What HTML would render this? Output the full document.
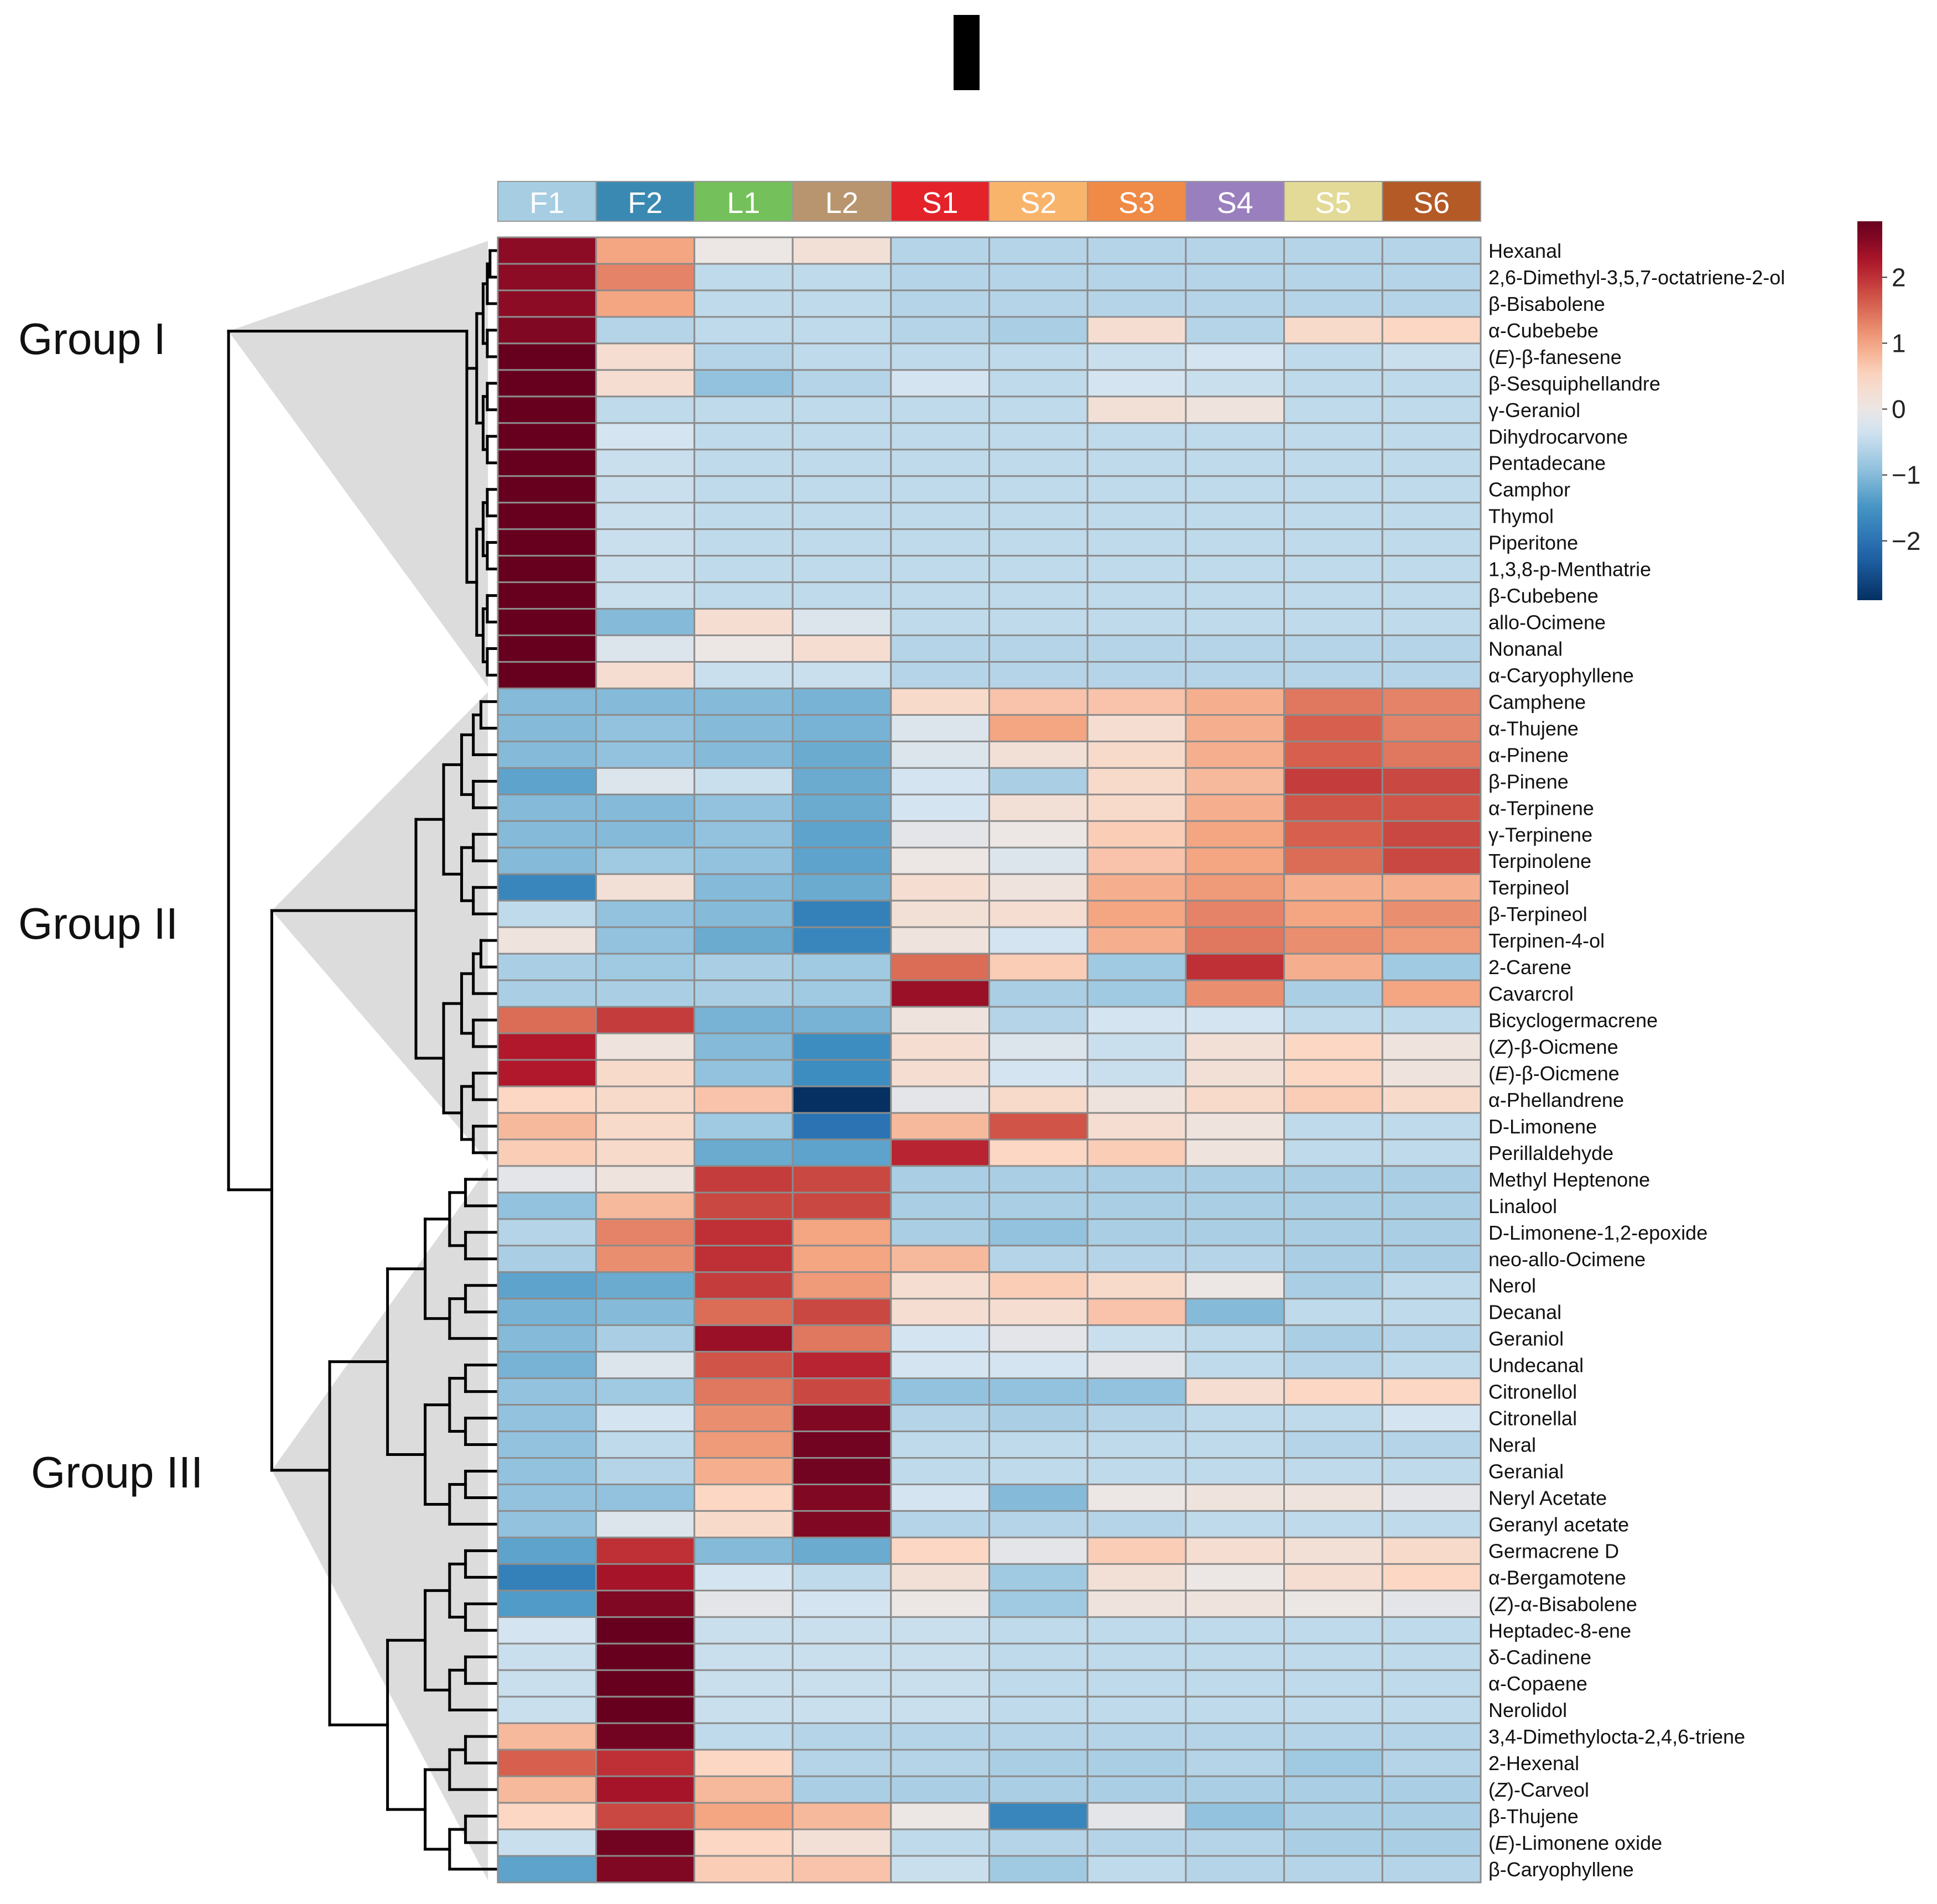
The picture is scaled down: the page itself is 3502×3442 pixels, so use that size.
<!DOCTYPE html>
<html><head><meta charset="utf-8">
<style>
html,body{margin:0;padding:0;background:#fff;}
body{width:3502px;height:3437px;overflow:hidden;font-family:"Liberation Sans",sans-serif;}
</style></head>
<body>
<svg id="chart" width="3502" height="3437" viewBox="0 0 3502 3437" xmlns="http://www.w3.org/2000/svg">
<rect x="1724" y="27" width="47" height="136" fill="#000"/>
<g id="tri"></g>
<g id="dendro"></g>
<g id="header"></g>
<g id="cells"></g>
<g id="rowlabels"></g>
<text x="33" y="640" font-size="80" fill="#111">Group I</text>
<text x="33" y="1697" font-size="80" fill="#111">Group II</text>
<text x="56" y="2689" font-size="80" fill="#111">Group III</text>
<g id="legend"></g>
</svg>
<script>
const columns=["F1","F2","L1","L2","S1","S2","S3","S4","S5","S6"];
const columnColors=["#a6cde2","#3a89b2","#74c05a","#b8956f","#e3222a","#f9b46c","#ef8a47","#9a7fbe","#e4da98","#b35a27"];
const rows=["Hexanal","2,6-Dimethyl-3,5,7-octatriene-2-ol","β-Bisabolene","α-Cubebebe","(E)-β-fanesene","β-Sesquiphellandre","γ-Geraniol","Dihydrocarvone","Pentadecane","Camphor","Thymol","Piperitone","1,3,8-p-Menthatrie","β-Cubebene","allo-Ocimene","Nonanal","α-Caryophyllene",
"Camphene","α-Thujene","α-Pinene","β-Pinene","α-Terpinene","γ-Terpinene","Terpinolene","Terpineol","β-Terpineol","Terpinen-4-ol","2-Carene","Cavarcrol","Bicyclogermacrene","(Z)-β-Oicmene","(E)-β-Oicmene","α-Phellandrene","D-Limonene","Perillaldehyde",
"Methyl Heptenone","Linalool","D-Limonene-1,2-epoxide","neo-allo-Ocimene","Nerol","Decanal","Geraniol","Undecanal","Citronellol","Citronellal","Neral","Geranial","Neryl Acetate","Geranyl acetate","Germacrene D","α-Bergamotene","(Z)-α-Bisabolene","Heptadec-8-ene","δ-Cadinene","α-Copaene","Nerolidol","3,4-Dimethylocta-2,4,6-triene","2-Hexenal","(Z)-Carveol","β-Thujene","(E)-Limonene oxide","β-Caryophyllene"];
const groupSizes=[17,18,27];
const values=[
[2.5,1.0,0.0,0.2,-0.6,-0.6,-0.6,-0.6,-0.6,-0.6],
[2.5,1.3,-0.5,-0.5,-0.6,-0.6,-0.6,-0.6,-0.6,-0.6],
[2.5,1.0,-0.5,-0.5,-0.6,-0.6,-0.6,-0.6,-0.6,-0.6],
[2.6,-0.6,-0.5,-0.5,-0.6,-0.7,0.3,-0.6,0.4,0.5],
[2.8,0.3,-0.6,-0.5,-0.5,-0.5,-0.4,-0.3,-0.5,-0.4],
[2.8,0.3,-0.9,-0.6,-0.3,-0.5,-0.3,-0.4,-0.5,-0.5],
[2.8,-0.5,-0.5,-0.5,-0.5,-0.5,0.2,0.1,-0.5,-0.5],
[2.8,-0.3,-0.5,-0.5,-0.5,-0.5,-0.5,-0.5,-0.5,-0.5],
[2.8,-0.4,-0.5,-0.5,-0.5,-0.5,-0.5,-0.5,-0.5,-0.5],
[2.8,-0.4,-0.5,-0.5,-0.5,-0.5,-0.5,-0.5,-0.5,-0.5],
[2.8,-0.4,-0.5,-0.5,-0.5,-0.5,-0.5,-0.5,-0.5,-0.5],
[2.8,-0.4,-0.5,-0.5,-0.5,-0.5,-0.5,-0.5,-0.5,-0.5],
[2.8,-0.4,-0.5,-0.5,-0.5,-0.5,-0.5,-0.5,-0.5,-0.5],
[2.8,-0.4,-0.5,-0.5,-0.5,-0.5,-0.5,-0.5,-0.5,-0.5],
[2.8,-1.0,0.3,-0.2,-0.5,-0.5,-0.5,-0.5,-0.5,-0.5],
[2.8,-0.2,0.0,0.3,-0.6,-0.6,-0.6,-0.6,-0.6,-0.6],
[2.8,0.3,-0.4,-0.4,-0.6,-0.6,-0.6,-0.6,-0.6,-0.6],
[-1.0,-1.0,-1.0,-1.1,0.4,0.7,0.7,0.9,1.4,1.3],
[-1.0,-0.9,-1.0,-1.1,-0.2,1.0,0.3,0.9,1.6,1.3],
[-1.0,-0.9,-1.0,-1.2,-0.2,0.2,0.4,0.9,1.6,1.4],
[-1.3,-0.2,-0.4,-1.2,-0.3,-0.7,0.4,0.8,1.9,1.8],
[-1.0,-1.0,-0.9,-1.2,-0.3,0.2,0.4,0.9,1.7,1.7],
[-1.0,-1.0,-0.9,-1.3,-0.1,0.0,0.6,1.0,1.6,1.8],
[-1.0,-0.8,-0.9,-1.3,0.0,-0.2,0.7,1.0,1.5,1.8],
[-1.7,0.2,-1.0,-1.2,0.3,0.1,0.9,1.1,0.9,0.9],
[-0.5,-0.9,-1.0,-1.8,0.2,0.3,1.0,1.3,1.0,1.2],
[0.1,-0.9,-1.2,-1.7,0.1,-0.3,0.9,1.4,1.2,1.1],
[-0.7,-0.8,-0.7,-0.8,1.5,0.6,-0.8,2.0,0.9,-0.8],
[-0.7,-0.7,-0.7,-0.8,2.4,-0.7,-0.8,1.2,-0.7,1.0],
[1.5,1.9,-1.1,-1.1,0.1,-0.6,-0.3,-0.3,-0.5,-0.5],
[2.2,0.1,-1.0,-1.6,0.3,-0.2,-0.4,0.2,0.5,0.1],
[2.2,0.4,-0.9,-1.6,0.3,-0.3,-0.4,0.2,0.5,0.1],
[0.5,0.4,0.7,-2.9,-0.1,0.4,0.1,0.4,0.6,0.4],
[0.8,0.4,-0.8,-2.0,0.8,1.7,0.3,0.1,-0.5,-0.5],
[0.6,0.4,-1.2,-1.3,2.1,0.5,0.6,0.1,-0.5,-0.5],
[-0.1,0.1,1.9,1.8,-0.7,-0.7,-0.7,-0.7,-0.7,-0.7],
[-0.9,0.8,1.8,1.8,-0.7,-0.7,-0.7,-0.7,-0.7,-0.7],
[-0.6,1.3,2.0,1.0,-0.7,-0.9,-0.7,-0.7,-0.7,-0.7],
[-0.7,1.2,2.0,1.0,0.8,-0.6,-0.6,-0.6,-0.7,-0.7],
[-1.3,-1.2,1.9,1.1,0.3,0.6,0.4,0.0,-0.7,-0.5],
[-1.1,-1.0,1.5,1.8,0.3,0.3,0.7,-1.0,-0.5,-0.5],
[-1.0,-0.7,2.4,1.4,-0.3,-0.1,-0.4,-0.5,-0.7,-0.6],
[-1.1,-0.2,1.7,2.1,-0.3,-0.3,-0.1,-0.5,-0.6,-0.5],
[-0.9,-0.8,1.4,1.8,-0.9,-0.9,-0.9,0.3,0.5,0.5],
[-0.9,-0.3,1.2,2.6,-0.6,-0.7,-0.6,-0.5,-0.5,-0.3],
[-0.9,-0.5,1.1,2.7,-0.5,-0.5,-0.5,-0.5,-0.6,-0.6],
[-0.9,-0.6,0.9,2.7,-0.5,-0.5,-0.5,-0.5,-0.5,-0.5],
[-0.9,-0.9,0.5,2.6,-0.3,-1.0,0.0,0.1,0.1,-0.1],
[-0.9,-0.2,0.4,2.6,-0.6,-0.6,-0.6,-0.5,-0.5,-0.5],
[-1.3,2.0,-1.0,-1.2,0.5,-0.1,0.6,0.3,0.2,0.4],
[-1.8,2.3,-0.3,-0.5,0.2,-0.8,0.2,0.0,0.3,0.5],
[-1.4,2.6,-0.1,-0.3,0.0,-0.8,0.1,0.1,0.0,-0.1],
[-0.3,2.8,-0.4,-0.4,-0.4,-0.5,-0.5,-0.5,-0.5,-0.5],
[-0.4,2.8,-0.4,-0.4,-0.4,-0.5,-0.5,-0.5,-0.5,-0.5],
[-0.4,2.8,-0.4,-0.4,-0.4,-0.5,-0.5,-0.5,-0.5,-0.5],
[-0.4,2.8,-0.4,-0.4,-0.4,-0.5,-0.5,-0.5,-0.5,-0.5],
[0.8,2.7,-0.5,-0.6,-0.6,-0.6,-0.6,-0.6,-0.6,-0.6],
[1.6,2.0,0.5,-0.6,-0.6,-0.7,-0.7,-0.6,-0.8,-0.6],
[0.8,2.3,0.8,-0.7,-0.7,-0.7,-0.7,-0.7,-0.7,-0.7],
[0.5,1.8,1.0,0.8,0.0,-1.7,-0.1,-0.9,-0.7,-0.7],
[-0.4,2.7,0.5,0.2,-0.5,-0.6,-0.6,-0.6,-0.7,-0.7],
[-1.3,2.6,0.6,0.7,-0.4,-0.8,-0.5,-0.6,-0.6,-0.6]];
const legendTicks=[2,1,0,-1,-2];

const NS="http://www.w3.org/2000/svg";
function mk(tag,attrs,parent){const e=document.createElementNS(NS,tag);for(const k in attrs)e.setAttribute(k,attrs[k]);parent.appendChild(e);return e;}
const X0=900,X1=2677,Y0=429,Y1=3403;
const cw=(X1-X0)/columns.length, rh=(Y1-Y0)/rows.length;
const xPos=i=>X0+i*cw, yPos=i=>Y0+i*rh;
const stops=[[-2.9,[5,48,97]],[-2.2,[33,102,172]],[-1.5,[67,147,195]],[-0.8,[160,202,226]],[-0.3,[212,228,240]],[0,[236,230,228]],[0.5,[251,215,196]],[1.0,[244,165,130]],[1.6,[214,96,77]],[2.2,[178,24,43]],[2.8,[103,0,31]]];
function color(v){
  if(v<=stops[0][0])return "rgb("+stops[0][1]+")";
  for(let i=1;i<stops.length;i++){if(v<=stops[i][0]){const a=stops[i-1],b=stops[i],t=(v-a[0])/(b[0]-a[0]);
    return "rgb("+a[1].map((c,k)=>Math.round(c+(b[1][k]-c)*t)).join(",")+")";}}
  return "rgb("+stops[stops.length-1][1]+")";
}
const S=2.2335;
// group anchor positions (screen)
const gx=[844,752,596], gyFix=[268*S,737*S,1190*S];
const rootX=185*S, joinX=220*S, rootJoinY=963*S;
// gray triangles
const tri=document.getElementById('tri');
const tris=[[[185,268],[395,195],[395,556]],[[220,737],[395,560],[395,940]],[[220,1190],[395,945],[395,1522]]];
tris.forEach((t,i)=>{const p=mk('polygon',{points:t.map(q=>(q[0]*S)+","+(q[1]*S)).join(" "),fill:"#dcdcdc"},tri);

});
// header
const hdr=document.getElementById('header');
columns.forEach((c,i)=>{
  const r=mk('rect',{x:xPos(i),y:328,width:cw,height:72,fill:columnColors[i],stroke:"#999","stroke-width":2},hdr);
  
  
  const t=mk('text',{x:xPos(i)+cw/2,y:385,"font-size":54,fill:"#fff","text-anchor":"middle"},hdr);
  t.textContent=c;
  
  
});
// cells
const cells=document.getElementById('cells');
values.forEach((row,r)=>row.forEach((v,c)=>{
  const e=mk('rect',{x:xPos(c),y:yPos(r),width:cw,height:rh,fill:color(v),stroke:"#8c8c8c","stroke-width":3},cells);
  
  
}));
// row labels
const rl=document.getElementById('rowlabels');
rows.forEach((n,i)=>{
  const t=mk('text',{x:2691,y:yPos(i)+rh/2+13,"font-size":36,fill:"#111"},rl);
  const m=n.match(/^\((E|Z)\)(.*)$/);
  if(m){t.innerHTML='(<tspan font-style="italic">'+m[1]+'</tspan>)'+m[2];}else t.textContent=n;
  
  
});
// dendrogram
const dg=document.getElementById('dendro');
function line(x1,y1,x2,y2){const l=mk('line',{x1:x1,y1:y1,x2:x2,y2:y2,stroke:"#000","stroke-width":5,"stroke-linecap":"square"},dg);

}
function build(lo,hi,xTop,forceY){
  if(lo===hi)return {y:yPos(lo)+rh/2};
  const mid=Math.floor((lo+hi)/2);
  const cx=xTop+(895-xTop)*0.35;
  const a=build(lo,mid,cx), b=build(mid+1,hi,cx);
  const xa=(lo===mid)?X0:cx, xb=(mid+1===hi)?X0:cx;
  let yTop=Math.min(a.y,b.y), yBot=Math.max(a.y,b.y);
  if(forceY!==undefined){yTop=Math.min(yTop,forceY);yBot=Math.max(yBot,forceY);}
  line(xTop,yTop,xTop,yBot);line(xTop,a.y,xa,a.y);line(xTop,b.y,xb,b.y);
  return {y:(a.y+b.y)/2};
}
let start=0;
groupSizes.forEach((n,g)=>{build(start,start+n-1,gx[g],gyFix[g]);start+=n;});
line(joinX,gyFix[1],joinX,gyFix[2]);line(joinX,gyFix[1],gx[1],gyFix[1]);line(joinX,gyFix[2],gx[2],gyFix[2]);
line(rootX,gyFix[0],rootX,rootJoinY);line(rootX,gyFix[0],gx[0],gyFix[0]);line(rootX,rootJoinY,joinX,rootJoinY);
// legend
const lg=document.getElementById('legend');
const defs=mk('defs',{},lg);
const grad=mk('linearGradient',{id:"lgrad",x1:0,y1:0,x2:0,y2:1},defs);
const vTop=2.85,vBot=-2.9;
for(let k=0;k<=20;k++){const v=vTop+(vBot-vTop)*k/20;mk('stop',{offset:k/20,"stop-color":color(v)},grad);}
const cb=mk('rect',{x:3358,y:400,width:45,height:685,fill:"url(#lgrad)"},lg);


const vy=v=>400+(vTop-v)/(vTop-vBot)*685;
legendTicks.forEach(v=>{
  mk('line',{x1:3403,y1:vy(v),x2:3412,y2:vy(v),stroke:"#333","stroke-width":2},lg);
  const t=mk('text',{x:3420,y:vy(v)+16,"font-size":46,fill:"#222"},lg);
  t.textContent=v<0?"\u2212"+Math.abs(v):String(v);
  
  
});
</script>
</body></html>
